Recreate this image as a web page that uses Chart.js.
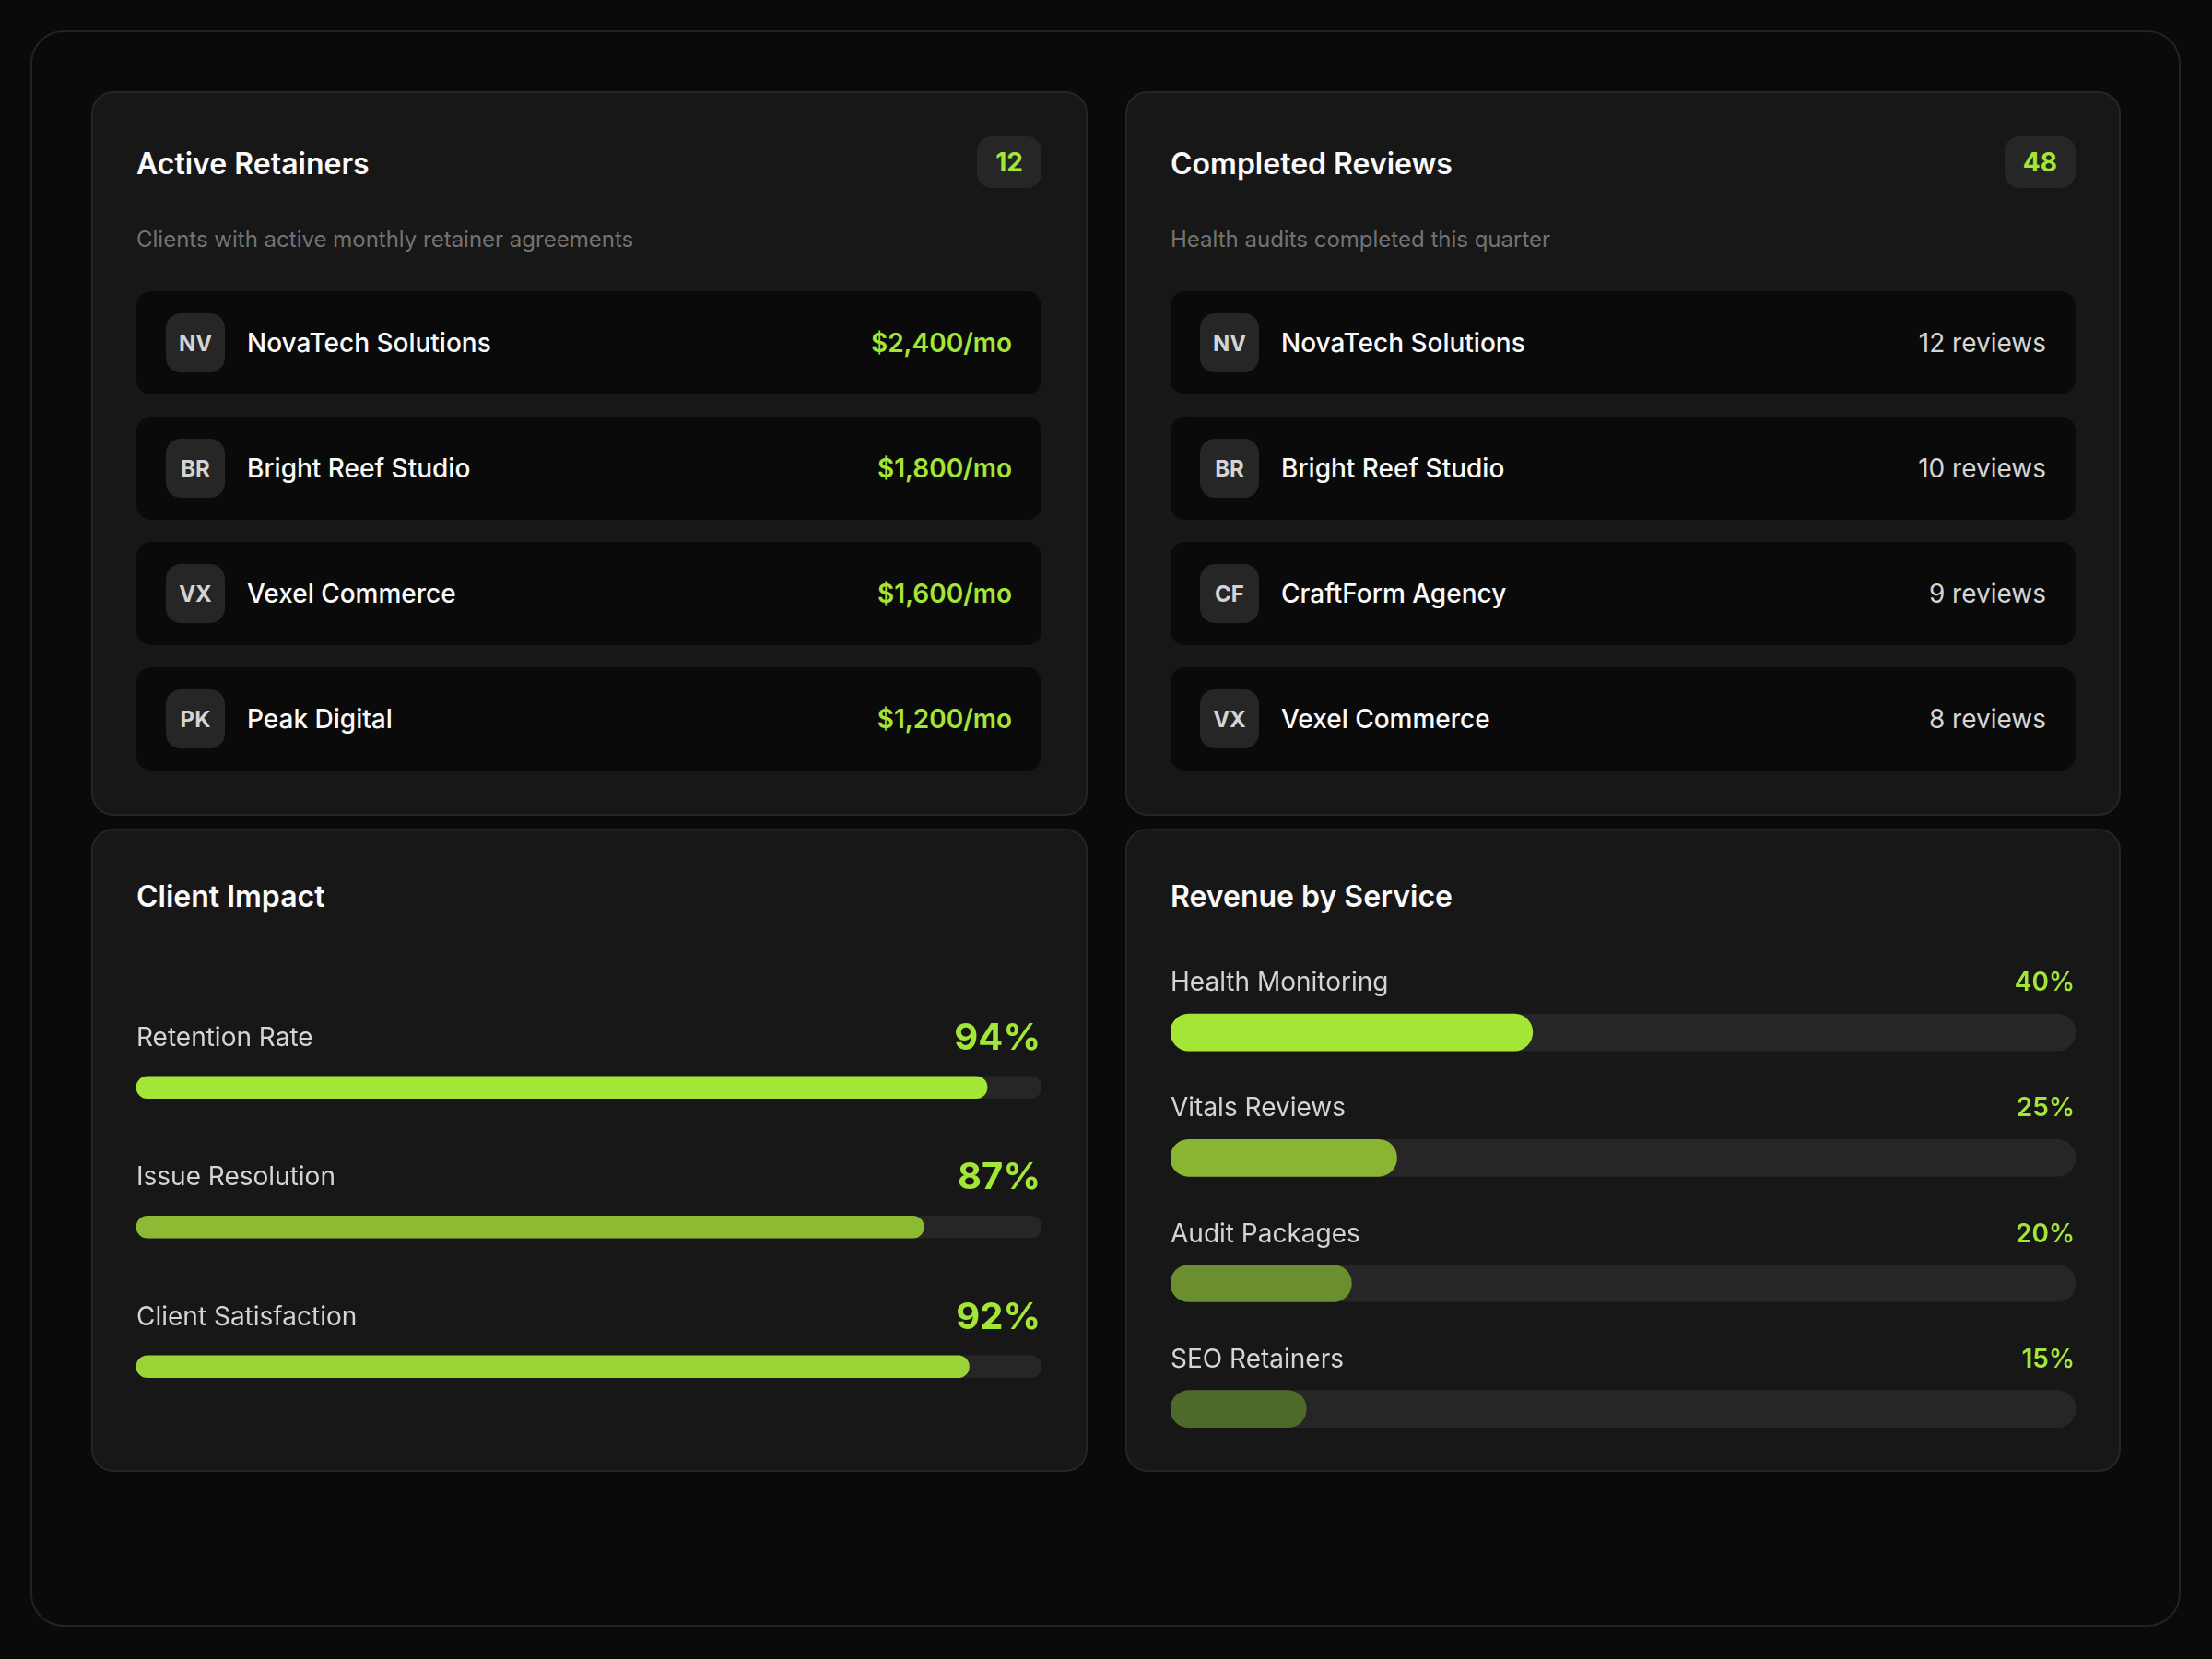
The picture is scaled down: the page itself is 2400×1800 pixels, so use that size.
<!DOCTYPE html>
<html>
<head>
<meta charset="utf-8">
<script src="https://cdn.jsdelivr.net/npm/chart.js@4.4.1/dist/chart.umd.min.js"></script>
<style>
  html, body { margin:0; padding:0; }
  body { width:2400px; height:1800px; background:#0a0a0a; position:relative; overflow:hidden; font-family:Inter, "Noto Sans", sans-serif; }
  .frame { position:absolute; left:33px; top:33px; width:2333px; height:1732px; box-sizing:border-box; border:2px solid #232323; border-radius:36px; background:#0a0a0a; }
  .card { position:absolute; box-sizing:border-box; background:#171717; border:2px solid #252525; border-radius:24px; }
  .abs { position:absolute; }
  .title { font-size:32px; font-weight:600; color:#fafafa; line-height:48px; white-space:nowrap; }
  .badge { height:56px; line-height:56px; padding:0 20px; border-radius:16px; background:#262626; color:#a3e635; font-size:28px; font-weight:700; }
  .sub { font-size:24px; line-height:36px; color:#737373; white-space:nowrap; }
  .list { width:982px; }
  .row { box-sizing:border-box; height:112px; margin-bottom:24px; background:#0a0a0a; border-radius:16px; display:flex; align-items:center; padding:0 32px; }
  .av { width:64px; height:64px; border-radius:16px; background:#262626; color:#d4d4d4; font-size:24px; font-weight:700; display:flex; align-items:center; justify-content:center; flex:none; }
  .name { margin-left:24px; font-size:28px; font-weight:500; color:#fafafa; flex:1; white-space:nowrap; }
  .val { font-size:28px; font-weight:600; color:#a3e635; white-space:nowrap; }
  .val.gray { font-size:28px; font-weight:400; color:#d4d4d4; }
  .chartbox { position:absolute; }
</style>
</head>
<body>
<div class="frame"></div>

<div class="card" style="left:99px;top:99px;width:1081px;height:786px;"></div>
<div class="card" style="left:1221px;top:99px;width:1080px;height:786px;"></div>
<div class="card" style="left:99px;top:899px;width:1081px;height:698px;"></div>
<div class="card" style="left:1221px;top:899px;width:1080px;height:698px;"></div>

<!-- Card 1 header -->
<div class="abs title" style="left:148px;top:153.5px;" id="t1"></div>
<div class="abs badge" style="right:1270px;top:148px;" id="b1"></div>
<div class="abs sub" style="left:148px;top:241.5px;" id="s1"></div>
<div class="abs list" style="left:148px;top:316px;" id="list1"></div>

<!-- Card 2 header -->
<div class="abs title" style="left:1270px;top:153.5px;" id="t2"></div>
<div class="abs badge" style="right:148px;top:148px;" id="b2"></div>
<div class="abs sub" style="left:1270px;top:241.5px;" id="s2"></div>
<div class="abs list" style="left:1270px;top:316px;" id="list2"></div>

<!-- Card 3 / 4 titles -->
<div class="abs title" style="left:148px;top:949px;" id="t3"></div>
<div class="abs title" style="left:1270px;top:949px;" id="t4"></div>

<div class="chartbox" style="left:148px;top:1063.5px;width:982px;height:494.5px;"><canvas id="impactChart"></canvas></div>
<div class="chartbox" style="left:1270px;top:1011.6px;width:982px;height:584.8px;"><canvas id="revenueChart"></canvas></div>

<script>
// ---------- DATA ----------
const retainerTitle = 'Active Retainers';
const retainerCount = 12;
const retainerSubtitle = 'Clients with active monthly retainer agreements';
const retainerClients = ['NovaTech Solutions', 'Bright Reef Studio', 'Vexel Commerce', 'Peak Digital'];
const retainerInitials = ['NV', 'BR', 'VX', 'PK'];
const retainerAmounts = [2400, 1800, 1600, 1200];

const reviewTitle = 'Completed Reviews';
const reviewCount = 48;
const reviewSubtitle = 'Health audits completed this quarter';
const reviewClients = ['NovaTech Solutions', 'Bright Reef Studio', 'CraftForm Agency', 'Vexel Commerce'];
const reviewInitials = ['NV', 'BR', 'CF', 'VX'];
const reviewCounts = [12, 10, 9, 8];

const impactTitle = 'Client Impact';
const impactLabels = ['Retention Rate', 'Issue Resolution', 'Client Satisfaction'];
const impactValues = [94, 87, 92];
const impactColors = ['#a3e635', '#8cbb33', '#9ad436'];

const revenueTitle = 'Revenue by Service';
const revenueLabels = ['Health Monitoring', 'Vitals Reviews', 'Audit Packages', 'SEO Retainers'];
const revenueValues = [40, 25, 20, 15];
const revenueColors = ['#a3e635', '#89b532', '#6b8f2e', '#4e6a2b'];

const trackColor = '#262626';

// ---------- TEXT / LISTS ----------
document.getElementById('t1').textContent = retainerTitle;
document.getElementById('b1').textContent = retainerCount;
document.getElementById('s1').textContent = retainerSubtitle;
document.getElementById('t2').textContent = reviewTitle;
document.getElementById('b2').textContent = reviewCount;
document.getElementById('s2').textContent = reviewSubtitle;
document.getElementById('t3').textContent = impactTitle;
document.getElementById('t4').textContent = revenueTitle;

function buildList(el, names, initials, values, fmt, cls) {
  names.forEach((n, i) => {
    const row = document.createElement('div');
    row.className = 'row';
    const av = document.createElement('div'); av.className = 'av'; av.textContent = initials[i];
    const nm = document.createElement('div'); nm.className = 'name'; nm.textContent = n;
    const v = document.createElement('div'); v.className = cls; v.textContent = fmt(values[i]);
    row.append(av, nm, v);
    el.appendChild(row);
  });
}
buildList(document.getElementById('list1'), retainerClients, retainerInitials, retainerAmounts,
  v => '$' + v.toLocaleString('en-US') + '/mo', 'val');
buildList(document.getElementById('list2'), reviewClients, reviewInitials, reviewCounts,
  v => v + ' reviews', 'val gray');

// ---------- CHARTS ----------
function labelPlugin(cfg) {
  return {
    id: 'rowLabels',
    afterDatasetsDraw(chart) {
      const ctx = chart.ctx;
      const xs = chart.scales.x, ys = chart.scales.y;
      const labels = chart.data.labels;
      const vals = chart.data.datasets[0].data;
      ctx.save();
      ctx.textBaseline = 'alphabetic';
      labels.forEach((lab, i) => {
        const yc = ys.getPixelForValue(i);
        ctx.font = cfg.labelFont;
        ctx.fillStyle = '#d4d4d4';
        ctx.textAlign = 'left';
        ctx.fillText(lab, xs.getPixelForValue(0), yc + cfg.labelDy);
        ctx.font = cfg.valueFont;
        ctx.fillStyle = '#a3e635';
        ctx.textAlign = 'right';
        ctx.fillText(vals[i] + '%', xs.getPixelForValue(100) - cfg.valueInset, yc + cfg.valueDy);
      });
      ctx.restore();
    }
  };
}

function progressChart(id, labels, values, colors, thickness, cfg) {
  return new Chart(document.getElementById(id), {
    type: 'bar',
    data: {
      labels: labels,
      datasets: [
        { data: values, backgroundColor: colors, barThickness: thickness, borderRadius: thickness / 2,
          borderSkipped: false, grouped: false, order: 1 },
        { data: labels.map(() => 100), backgroundColor: trackColor, barThickness: thickness,
          borderRadius: thickness / 2, borderSkipped: false, grouped: false, order: 2 }
      ]
    },
    options: {
      indexAxis: 'y',
      responsive: true,
      maintainAspectRatio: false,
      animation: false,
      layout: { padding: { top: 40, left: 0, right: 0, bottom: 0 } },
      scales: {
        x: { display: false, min: 0, max: 100 },
        y: { display: false }
      },
      plugins: { legend: { display: false }, tooltip: { enabled: false } }
    },
    plugins: [labelPlugin(cfg)]
  });
}

progressChart('impactChart', impactLabels, impactValues, impactColors, 24,
  { labelFont: '400 28px Inter', valueFont: '700 40px Inter', labelDy: -45, valueDy: -41, valueInset: 1 });
progressChart('revenueChart', revenueLabels, revenueValues, revenueColors, 40,
  { labelFont: '400 28px Inter', valueFont: '600 28px Inter', labelDy: -45, valueDy: -45, valueInset: 1 });
</script>
</body>
</html>
